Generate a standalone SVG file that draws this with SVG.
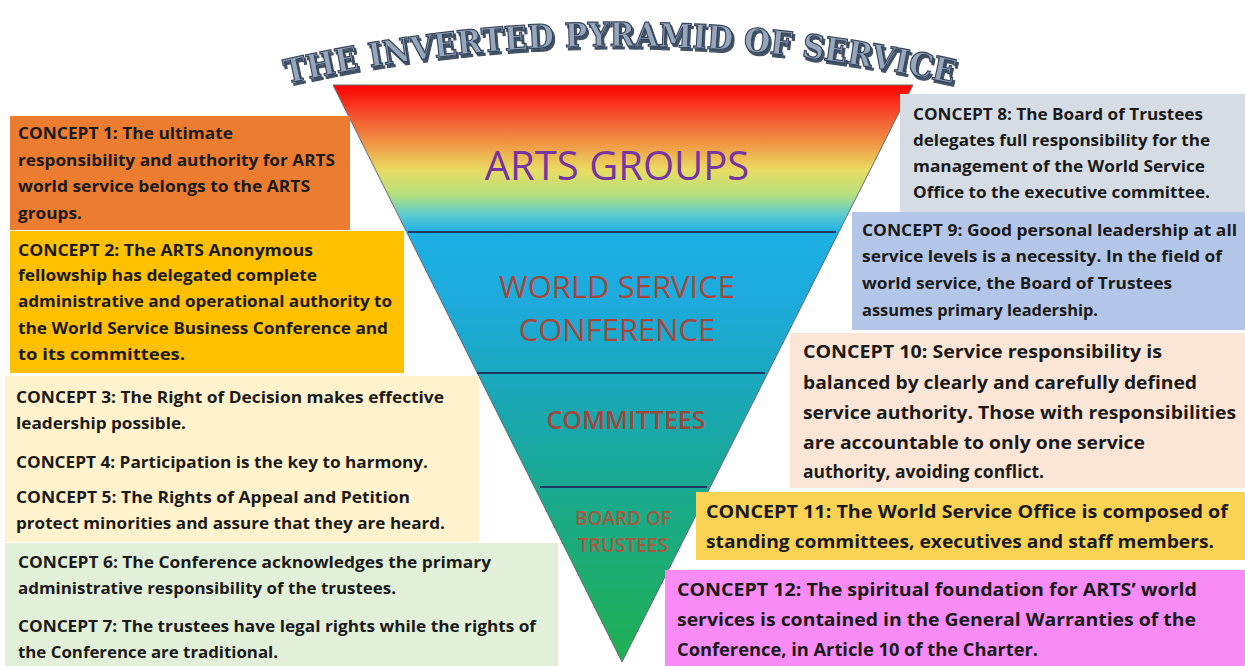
<svg xmlns="http://www.w3.org/2000/svg" width="1245" height="666" viewBox="0 0 1245 666">
<defs>
<linearGradient id="pyr" gradientUnits="userSpaceOnUse" x1="0" y1="85" x2="0" y2="662">
<stop offset="0" stop-color="#ff0000"/>
<stop offset="0.052" stop-color="#f5512f"/>
<stop offset="0.104" stop-color="#f09a45"/>
<stop offset="0.147" stop-color="#e9dc62"/>
<stop offset="0.191" stop-color="#b4e07e"/>
<stop offset="0.225" stop-color="#5ccbd0"/>
<stop offset="0.255" stop-color="#1cb0e4"/>
<stop offset="0.373" stop-color="#1eaadc"/>
<stop offset="0.499" stop-color="#1aa8c0"/>
<stop offset="0.598" stop-color="#19a8a8"/>
<stop offset="0.719" stop-color="#1aaa8c"/>
<stop offset="1" stop-color="#20b050"/>
</linearGradient>
<path id="arc" d="M 268,88 Q 620,4 972,88"/>
<filter id="shadow" x="-5%" y="-30%" width="110%" height="160%">
<feDropShadow dx="2" dy="3" stdDeviation="0.6" flood-color="#2f3d52" flood-opacity="0.9"/>
</filter>
</defs>
<style>
.c{font-family:"Open Sans",Lato,"Liberation Sans",sans-serif;font-weight:bold;font-size:16px;fill:#1a1a1a}
.cr{font-family:"Open Sans",Lato,"Liberation Sans",sans-serif;font-weight:bold;font-size:17.5px;fill:#1a1a1a}
.lvl{font-family:"Open Sans","Noto Sans","Liberation Sans",sans-serif;text-anchor:middle}
.band{stroke:#1f3864;stroke-width:2}
.title{font-family:"DejaVu Serif","Liberation Serif",serif;font-weight:bold;font-size:33px}
</style>
<rect width="1245" height="666" fill="#ffffff"/>

<g id="title">
<text class="title" fill="#97a7bb" stroke="#34435c" stroke-width="1.2" filter="url(#shadow)"><textPath href="#arc" startOffset="50%" text-anchor="middle" textLength="672" lengthAdjust="spacingAndGlyphs">THE INVERTED PYRAMID OF SERVICE</textPath></text>
</g>

<g id="pyramid">
<polygon points="333,85 913,85 622,662" fill="url(#pyr)" stroke="#6a6a72" stroke-width="1"/>
</g>

<g id="connectors">
<line class="band" x1="408" y1="232" x2="836" y2="232"/>
<line class="band" x1="477" y1="373" x2="765" y2="373"/>
<line class="band" x1="540" y1="487" x2="707" y2="487"/>
</g>

<g id="arts-groups">
<text class="lvl" x="617" y="180" font-size="40" fill="#7535a0">ARTS GROUPS</text>
</g>
<g id="world-service-conference">
<text class="lvl" x="617" y="298" font-size="31" fill="#a8463a">WORLD SERVICE</text>
<text class="lvl" x="617" y="341" font-size="31" fill="#a8463a">CONFERENCE</text>
</g>
<g id="committees">
<text class="lvl" x="626" y="429" font-size="25" font-weight="600" fill="#a0463a">COMMITTEES</text>
</g>
<g id="board-of-trustees">
<text class="lvl" x="623" y="525" font-size="19" font-weight="600" fill="#a8583f">BOARD OF</text>
<text class="lvl" x="623" y="552" font-size="19" font-weight="600" fill="#a8583f">TRUSTEES</text>
</g>

<g id="concept1">
<rect x="10" y="116" width="340" height="114" fill="#ec7c30"/>
<text class="c" x="18" y="139" textLength="215" lengthAdjust="spacingAndGlyphs">CONCEPT 1: The ultimate</text>
<text class="c" x="18" y="166" textLength="317" lengthAdjust="spacingAndGlyphs">responsibility and authority for ARTS</text>
<text class="c" x="18" y="192" textLength="292" lengthAdjust="spacingAndGlyphs">world service belongs to the ARTS</text>
<text class="c" x="18" y="219" textLength="64" lengthAdjust="spacingAndGlyphs">groups.</text>
</g>
<g id="concept2">
<rect x="10" y="231" width="394" height="142" fill="#ffc000"/>
<text class="c" x="18" y="256" textLength="295" lengthAdjust="spacingAndGlyphs">CONCEPT 2: The ARTS Anonymous</text>
<text class="c" x="18" y="281" textLength="299" lengthAdjust="spacingAndGlyphs">fellowship has delegated complete</text>
<text class="c" x="18" y="307" textLength="374" lengthAdjust="spacingAndGlyphs">administrative and operational authority to</text>
<text class="c" x="18" y="334" textLength="370" lengthAdjust="spacingAndGlyphs">the World Service Business Conference and</text>
<text class="c" x="18" y="360" textLength="167" lengthAdjust="spacingAndGlyphs">to its committees.</text>
</g>
<g id="concept3-5">
<rect x="5" y="376" width="474" height="166" fill="#fff2cc"/>
<text class="c" x="16" y="403" textLength="428" lengthAdjust="spacingAndGlyphs">CONCEPT 3: The Right of Decision makes effective</text>
<text class="c" x="16" y="429" textLength="170" lengthAdjust="spacingAndGlyphs">leadership possible.</text>
<text class="c" x="16" y="468" textLength="412" lengthAdjust="spacingAndGlyphs">CONCEPT 4: Participation is the key to harmony.</text>
<text class="c" x="16" y="503" textLength="394" lengthAdjust="spacingAndGlyphs">CONCEPT 5: The Rights of Appeal and Petition</text>
<text class="c" x="16" y="529" textLength="429" lengthAdjust="spacingAndGlyphs">protect minorities and assure that they are heard.</text>
</g>
<g id="concept6-7">
<rect x="5" y="543" width="553" height="123" fill="#e2efd9"/>
<text class="c" x="18" y="568" textLength="473" lengthAdjust="spacingAndGlyphs">CONCEPT 6: The Conference acknowledges the primary</text>
<text class="c" x="18" y="594" textLength="378" lengthAdjust="spacingAndGlyphs">administrative responsibility of the trustees.</text>
<text class="c" x="18" y="632" textLength="518" lengthAdjust="spacingAndGlyphs">CONCEPT 7: The trustees have legal rights while the rights of</text>
<text class="c" x="18" y="658" textLength="260" lengthAdjust="spacingAndGlyphs">the Conference are traditional.</text>
</g>

<g id="concept8">
<rect x="900" y="94" width="345" height="118" fill="#d6dce4"/>
<text class="c" x="913" y="120" textLength="290" lengthAdjust="spacingAndGlyphs">CONCEPT 8: The Board of Trustees</text>
<text class="c" x="913" y="146" textLength="297" lengthAdjust="spacingAndGlyphs">delegates full responsibility for the</text>
<text class="c" x="913" y="172" textLength="292" lengthAdjust="spacingAndGlyphs">management of the World Service</text>
<text class="c" x="913" y="198" textLength="297" lengthAdjust="spacingAndGlyphs">Office to the executive committee.</text>
</g>
<g id="concept9">
<rect x="852" y="212" width="393" height="118" fill="#b4c6e7"/>
<text class="c" x="862" y="236" textLength="375" lengthAdjust="spacingAndGlyphs">CONCEPT 9: Good personal leadership at all</text>
<text class="c" x="862" y="262" textLength="360" lengthAdjust="spacingAndGlyphs">service levels is a necessity. In the field of</text>
<text class="c" x="862" y="289" textLength="310" lengthAdjust="spacingAndGlyphs">world service, the Board of Trustees</text>
<text class="c" x="862" y="316" textLength="236" lengthAdjust="spacingAndGlyphs">assumes primary leadership.</text>
</g>
<g id="concept10">
<rect x="790" y="333" width="455" height="155" fill="#fbe5d6"/>
<text class="cr" x="803" y="358" textLength="359" lengthAdjust="spacingAndGlyphs">CONCEPT 10: Service responsibility is</text>
<text class="cr" x="803" y="389" textLength="394" lengthAdjust="spacingAndGlyphs">balanced by clearly and carefully defined</text>
<text class="cr" x="803" y="419" textLength="433" lengthAdjust="spacingAndGlyphs">service authority. Those with responsibilities</text>
<text class="cr" x="803" y="449" textLength="342" lengthAdjust="spacingAndGlyphs">are accountable to only one service</text>
<text class="cr" x="803" y="478" textLength="241" lengthAdjust="spacingAndGlyphs">authority, avoiding conflict.</text>
</g>
<g id="concept11">
<rect x="696" y="492" width="549" height="68" fill="#fad354"/>
<text class="cr" x="706" y="518" textLength="522" lengthAdjust="spacingAndGlyphs">CONCEPT 11: The World Service Office is composed of</text>
<text class="cr" x="706" y="548" textLength="508" lengthAdjust="spacingAndGlyphs">standing committees, executives and staff members.</text>
</g>
<g id="concept12">
<rect x="665" y="570" width="580" height="96" fill="#f98bf6"/>
<text class="cr" x="677" y="596" textLength="520" lengthAdjust="spacingAndGlyphs">CONCEPT 12: The spiritual foundation for ARTS’ world</text>
<text class="cr" x="677" y="626" textLength="519" lengthAdjust="spacingAndGlyphs">services is contained in the General Warranties of the</text>
<text class="cr" x="677" y="656" textLength="361" lengthAdjust="spacingAndGlyphs">Conference, in Article 10 of the Charter.</text>
</g>
</svg>
